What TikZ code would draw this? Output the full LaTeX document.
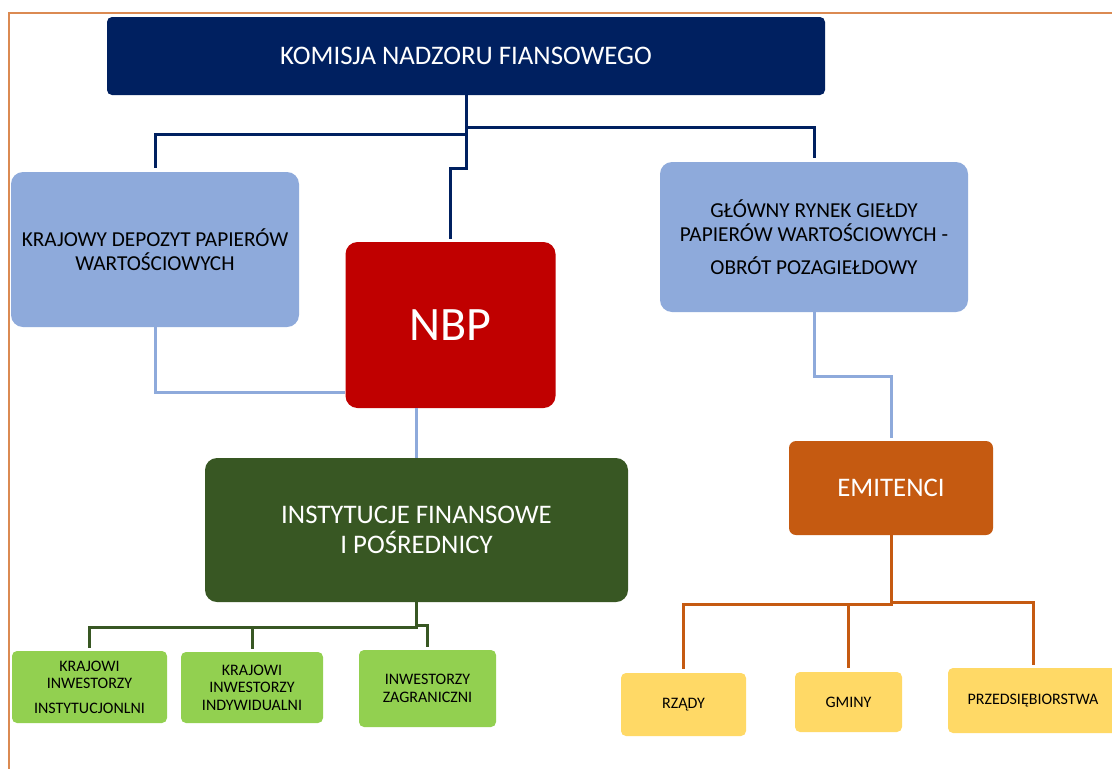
\documentclass[tikz,border=0pt]{standalone}
\usepackage{fontspec}
\setmainfont{Carlito}
\definecolor{navy}{HTML}{002060}
\definecolor{paleblue}{HTML}{8EAADB}
\definecolor{nbpred}{HTML}{C00000}
\definecolor{darkgreen}{HTML}{385723}
\definecolor{lightgreen}{HTML}{92D050}
\definecolor{burnt}{HTML}{C55A11}
\definecolor{sand}{HTML}{FFD966}
\definecolor{frame}{HTML}{DB8A52}
\tikzset{
  box/.style={inner sep=0pt, align=center, font=\fontsize{21.3}{24}\selectfont},
  bigtext/.style={text=white, font=\fontsize{26.8}{29.5}\selectfont},
  smalltext/.style={text=black, font=\fontsize{16}{17.5}\selectfont},
  navyln/.style={draw=navy, line width=3pt},
  blueln/.style={draw=paleblue, line width=3pt},
  greenln/.style={draw=darkgreen, line width=3pt},
  burntln/.style={draw=burnt, line width=3pt},
}
\begin{document}
\begin{tikzpicture}[x=1pt,y=-1pt]
\useasboundingbox (0,0) rectangle (1112,769);
\clip (0,0) rectangle (1112,769);
\fill[white] (0,0) rectangle (1112,769);

% outer frame
\draw[frame, line width=2pt] (9,780) -- (9,13) -- (1120,13);

% top level
\node[box, bigtext, fill=navy, rounded corners=5pt, minimum width=718pt, minimum height=78pt] (knf) at (466,56) {KOMISJA NADZORU FIANSOWEGO};

% second level
\node[box, fill=paleblue, rounded corners=12pt, minimum width=288pt, minimum height=155pt] (kdpw) at (155,249.5) {KRAJOWY DEPOZYT PAPIERÓW\\WARTOŚCIOWYCH};
\node[box, fill=nbpred, rounded corners=12pt, minimum width=210pt, minimum height=166pt, text=white, font=\fontsize{48}{50}\selectfont] (nbp) at (450.5,325) {NBP};
\node[box, fill=paleblue, rounded corners=12pt, minimum width=308pt, minimum height=150pt] (gr) at (814,237) {GŁÓWNY RYNEK GIEŁDY\\PAPIERÓW WARTOŚCIOWYCH -\\[9pt]OBRÓT POZAGIEŁDOWY};

% third level
\node[box, bigtext, fill=darkgreen, rounded corners=12pt, minimum width=423pt, minimum height=144pt] (inst) at (416.5,530) {INSTYTUCJE FINANSOWE\\I POŚREDNICY};
\node[box, bigtext, fill=burnt, rounded corners=7pt, minimum width=204pt, minimum height=94pt] (emit) at (891,488) {EMITENCI};

% investors
\node[box, smalltext, fill=lightgreen, rounded corners=5pt, minimum width=155pt, minimum height=72pt] (ki1) at (89.5,687) {KRAJOWI\\INWESTORZY\\[7pt]INSTYTUCJONLNI};
\node[box, smalltext, fill=lightgreen, rounded corners=5pt, minimum width=142pt, minimum height=71pt] (ki2) at (252,687.5) {KRAJOWI\\INWESTORZY\\INDYWIDUALNI};
\node[box, smalltext, fill=lightgreen, rounded corners=5pt, minimum width=137pt, minimum height=77pt] (ki3) at (427.5,688.5) {INWESTORZY\\ZAGRANICZNI};

% issuers
\node[box, smalltext, fill=sand, rounded corners=5pt, minimum width=125pt, minimum height=63pt] (rz) at (683.5,704.5) {RZĄDY};
\node[box, smalltext, fill=sand, rounded corners=5pt, minimum width=107pt, minimum height=60pt] (gm) at (848.5,702) {GMINY};
\node[box, smalltext, fill=sand, rounded corners=5pt, minimum width=170pt, minimum height=65pt] (pr) at (1033,700.5) {PRZEDSIĘBIORSTWA};

% supervision links
\draw[navyln, shorten >=4pt] (knf.south) -- ++(0,39) -| (kdpw.north);
\draw[navyln, shorten >=4pt] (knf.south) -- ++(0,32) -| (gr.north);
\draw[navyln, shorten >=3pt] (knf.south) -- ++(0,73) -| (nbp.north);

% market links
\draw[blueln] (kdpw.south) |- ([yshift=-67pt]nbp.west);
\draw[blueln] (inst.north) -- (inst.north |- nbp.south);
\draw[blueln, shorten >=3pt] (gr.south) -- ++(0,64) -| (emit.north);

% investor links
\draw[greenln, shorten >=3pt] (inst.south) -- ++(0,25) -| (ki1.north);
\draw[greenln, shorten >=3pt] (inst.south) -- ++(0,25) -| (ki2.north);
\draw[greenln, shorten >=3pt] (inst.south) -- ++(0,23) -| (ki3.north);

% issuer links
\draw[burntln, shorten >=4pt] (emit.south) -- ++(0,69) -| (rz.north);
\draw[burntln, shorten >=4pt] (emit.south) -- ++(0,69) -| (gm.north);
\draw[burntln, shorten >=3pt] (emit.south) -- ++(0,67) -| (pr.north);
\end{tikzpicture}
\end{document}
